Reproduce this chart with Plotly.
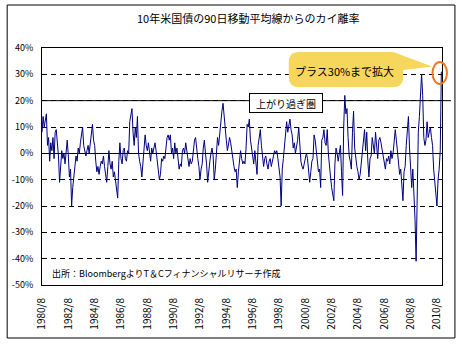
import plotly.graph_objects as go
import pandas as pd

# ---------------- data (monthly, % deviation from 90-day moving average) -------------
dev_1980s = [8, 14, 10, 13, 15, 3, 6, -3, 4, 1, 6, -2, 8, 9, 4, -1, -11, -3, 1, -2,
             0, -4, 0, 5, -1, -9, -6, -20, -13, -7, -5, -1, -3, 2, 0, 4, 8, 10, 3, 1,
             -1, 1, 3, 0, 4, 9, 11, 5, 3, -3, -7, -5, -8, -5, -3, -4, -1, -5, -8, -11,
             -5, 1,
             -4, -6, -3, -9, -7, -10, -15, -17, -3, 4, -2, -4, 1, 2, -2, -3, 1, 0, 12, 14,
             17, 8, 3, 10, 6, 14, 0, -3, -5, -9, -4, 2, 7, 3, 1, 4, -1, -3, 2, 0,
             2, 4, 1, -2, -6, -10, -8, -2, -3, -1, -2, 2, 6, 7, 5, 7, 0, 2, -2, 4, 0]
dev_1990s = [2, -3, -6, -4, -5, 1, 2, 0, 4, 1, -3, -5, -2, -4, -3, 1, 5, 6, 1, -2,
             -5, -10, -6, -4, 2, 5, 0, -4, -11, -5, -3, 0, 2, -1, -10, -6, 1, 6, 3, 8,
             13, 16, 19, 14, 7, 5, 1, 3, 6, 4, 0, -2, -5, -7, -6, -13, -7, -3, 1, -2,
             -4, -3,
             -4, 2, 11, 10, 13, 5, 2, -1, -4, 1, -5, -8, 3, 7, 9, 3, -1, -5, -2, -1,
             -4, -6, -3, -2, -5, -3, -1, 1, 0, 1, -2, -5, -9, -20, -6, -2, 4, 9, 12, 8,
             11, 13, 9, 7, 2, 4, 0, 2, 5, 10, 2, -3, -5, -6, -4, -1, 0, -2, -6, -11,
             -7, -3]
dev_2000s = [-2, 7, 5, 1, -4, -7, -6, -13, 5, 6, 9, 4, 3, 9, 0, -6, -9, -13, -16, -18,
             -4, 2, 0, -3, 0, 3, -7, -16, 10, 22, 15, 17, 6, -1, -3, -6, 8, 16, 2, -3,
             -5, -7, -10, -8, -4, 2, 5, 9, 1, 8, -3, -9, -2, -1, 6, 2, 0, 8, 4, -2, 5,
             6, 4, 1, -2, -5, -6, -2, -3, -1, -4, 1, -2, 0, 4, 9, 5, 1, -4, -8, -6,
             -13, -18, -7, -5, 3, 8, 14, 2, -8, -13, -6, -15, -25, -41, -5, 8, 14, 20, 30, 22,
             6, 3, 5, 12, 6, 8, 10, 6, 3, -6, -12, -15, -20, -10, -6, 1, 31]
deviation = dev_1980s + dev_1990s + dev_2000s

months = pd.date_range("1980-08-01", periods=len(deviation), freq="MS")
month_labels = [f"{d.year}/{d.month}" for d in months]

x_tick_labels = ["1980/8", "1982/8", "1984/8", "1986/8", "1988/8", "1990/8", "1992/8",
                 "1994/8", "1996/8", "1998/8", "2000/8", "2002/8", "2004/8", "2006/8",
                 "2008/8", "2010/8"]
y_tick_values = [40, 30, 20, 10, 0, -10, -20, -30, -40, -50]
y_tick_labels = ["40%", "30%", "20%", "10%", "0%", "-10%", "-20%", "-30%", "-40%", "-50%"]

title_text = "10年米国債の90日移動平均線からのカイ離率"
zone_text = "上がり過ぎ圏"
callout_text = "プラス30%まで拡大"
source_text = "出所：BloombergよりT＆Cフィナンシャルリサーチ作成"

# ---------------- layout helpers (pixel -> paper) ----------------
W, H = 462, 349
PL, PR, PT, PB = 40, 442, 48, 285
FONT = "Noto Sans CJK JP"


def px(x):
    return (x - PL) / (PR - PL)


def py(y):
    return (PB - y) / (PB - PT)


fig = go.Figure()
fig.add_trace(go.Scatter(x=month_labels, y=deviation, mode="lines",
                         line=dict(color="#000080", width=1), hoverinfo="skip",
                         showlegend=False))

# callout path (rounded box with a tail)
bx0, bx1, by0, by1, r = 288, 403, 52, 87, 10
pts = (f"M {px(bx0 + r)},{py(by0)} L {px(393)},{py(by0)} L {px(432)},{py(66.5)} "
       f"L {px(bx1)},{py(70)} L {px(bx1)},{py(by1 - r)} "
       f"Q {px(bx1)},{py(by1)} {px(bx1 - r)},{py(by1)} L {px(bx0 + r)},{py(by1)} "
       f"Q {px(bx0)},{py(by1)} {px(bx0)},{py(by1 - r)} L {px(bx0)},{py(by0 + r)} "
       f"Q {px(bx0)},{py(by0)} {px(bx0 + r)},{py(by0)} Z")

shapes = [
    # outer frame
    dict(type="rect", xref="paper", yref="paper", x0=px(5), x1=px(455),
         y0=py(338), y1=py(5), line=dict(color="black", width=1), layer="below"),
    # solid 20% threshold line
    dict(type="line", xref="paper", yref="y", x0=0, x1=px(451), y0=20, y1=20,
         line=dict(color="black", width=1)),
    # callout
    dict(type="path", xref="paper", yref="paper", path=pts,
         fillcolor="#F6D65B", line=dict(width=0)),
    # orange circle
    dict(type="circle", xref="paper", yref="paper", x0=px(432.5), x1=px(447),
         y0=py(84), y1=py(62), line=dict(color="#F07820", width=2)),
]

annotations = [
    dict(text=title_text, xref="paper", yref="paper", x=px(247), y=py(18),
         xanchor="center", yanchor="middle", showarrow=False,
         font=dict(family=FONT, size=11, color="black")),
    dict(text=zone_text, xref="paper", yref="paper", x=px(285), y=py(103),
         xanchor="center", yanchor="middle", showarrow=False,
         bgcolor="white", bordercolor="black", borderwidth=1, borderpad=0,
         width=72, height=18,
         font=dict(family=FONT, size=10, color="black")),
    dict(text=callout_text, xref="paper", yref="paper", x=px(344), y=py(71),
         xanchor="center", yanchor="middle", showarrow=False,
         font=dict(family=FONT, size=11, color="black")),
    dict(text=source_text, xref="paper", yref="paper", x=px(48), y=py(273),
         xanchor="left", yanchor="middle", showarrow=False,
         font=dict(family=FONT, size=9, color="black")),
]

fig.update_layout(
    width=W, height=H,
    margin=dict(l=PL, r=W - PR, t=PT, b=H - PB),
    paper_bgcolor="white", plot_bgcolor="white",
    font=dict(family=FONT, color="black"),
    shapes=shapes, annotations=annotations,
    xaxis=dict(type="category", range=[0, len(deviation) - 0.4],
               tickmode="array", tickvals=x_tick_labels, ticktext=x_tick_labels,
               tickangle=-90, tickfont=dict(size=10, family=FONT),
               ticklabelstandoff=8,
               showgrid=False, zeroline=False, showline=True, mirror=True,
               linecolor="black", linewidth=1),
    yaxis=dict(range=[-50, 40], tickmode="array", tickvals=y_tick_values,
               ticktext=y_tick_labels, tickfont=dict(size=9, family=FONT),
               ticklabelstandoff=6,
               showgrid=True, gridcolor="black", gridwidth=1, griddash="5px,4px",
               zeroline=True, zerolinecolor="black", zerolinewidth=1,
               showline=True, mirror=True, linecolor="black", linewidth=1),
)

fig.write_html("out.html")
